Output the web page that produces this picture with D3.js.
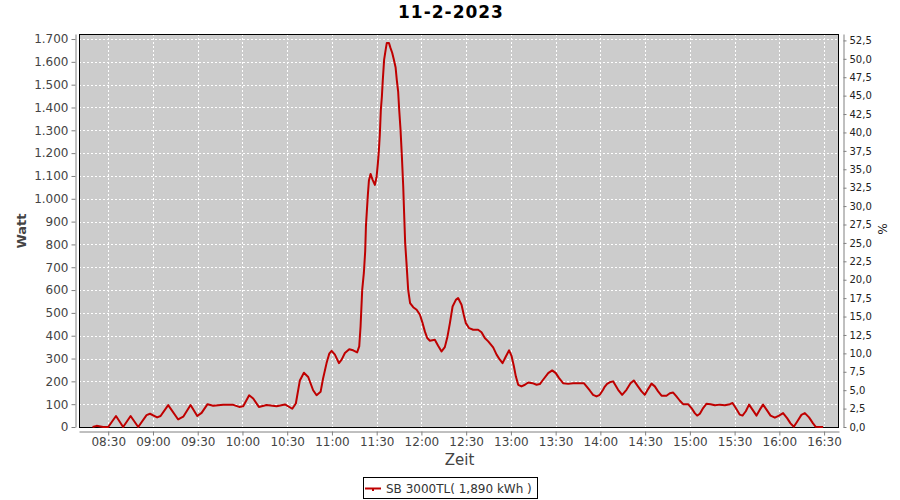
<!DOCTYPE html>
<html>
<head>
<meta charset="utf-8">
<script src="https://cdn.jsdelivr.net/npm/d3@7"></script>
<style>
  body { margin: 0; background: #fff; }
  svg { display: block; font-family: "DejaVu Sans", sans-serif; }
</style>
</head>
<body>
<svg id="chart" width="900" height="500"></svg>
<script>
// ---- data (minutes since midnight, watts) ----
const minutes = [
  499.5, 502.2, 506.6, 510, 515.2, 520, 525, 530.1, 535.7, 538, 542.8, 545.1, 550.2, 556.9, 560.3, 565.2,
  569.7, 572.6, 576.6, 580.4, 587.1, 593.8, 597.8, 600.5, 604.5, 607.2, 611, 616.2, 622.9, 628.5, 633.4,
  635.8, 638.5, 641.2, 644.1, 647.4, 649.7, 652.4, 654.1, 656.4, 658.2, 659.8, 662, 664.7, 666.5, 668.7,
  671.6, 674.2, 676.9, 678.3, 679.2, 679.6, 680.3, 681.4, 682.3, 682.8, 683.4, 684.1, 684.8, 685.9, 687.3,
  688.8, 689.9, 690.8, 691.5, 692.1, 692.8, 693.5, 694.1, 695, 696.2, 696.8, 698.2, 699.3, 700.4, 701.5,
  702.7, 703.5, 704.4, 705.1, 706, 706.9, 707.8, 708.4, 709.1, 710, 711.1, 712.4, 714.5, 716.8, 719,
  720.8, 722.3, 723.9, 725.7, 729, 731.2, 733.5, 735.7, 737.5, 739.1, 740.9, 743.1, 744.6, 746.9, 748.4,
  749.8, 752, 754.7, 758, 760.3, 762.5, 764.8, 768.1, 770.4, 772.6, 774.4, 776.6, 778.8, 780.4, 782,
  783.3, 784.9, 787.1, 789.4, 791.6, 794.5, 797.2, 799.4, 801.6, 805, 807.7, 810.1, 812.3, 815, 818.4,
  821.7, 826.2, 828.9, 830.7, 832.9, 835.1, 837.4, 839.6, 841.8, 843, 844.5, 846.3, 848.5, 851.9, 854.6,
  857.5, 860.2, 862.4, 865.3, 867.6, 869.8, 872, 874.3, 876.5, 878.7, 881, 884.3, 886.6, 888.8, 891,
  893.3, 895.5, 898.8, 901.1, 903.3, 904.9, 906.7, 908.9, 911.2, 913.9, 916.8, 920.1, 923.5, 926.8, 928.6,
  930.8, 933.5, 935.3, 937.5, 939.7, 942, 944.7, 946.9, 949.1, 951.4, 954.1, 957, 959.8, 962.5, 965.2,
  967.5, 969.7, 971.9, 974.8, 977.1, 979.9, 982.6, 984.4, 987.1, 989.3
];
const watts = [
  0, 5, 0, 0, 48, 0, 48, 0, 52, 58, 42, 48, 96, 33, 45, 96,
  48, 62, 100, 93, 97, 97, 88, 91, 139, 125, 88, 96, 91, 99, 80,
  103, 204, 238, 219, 161, 139, 154, 214, 280, 321, 334, 317, 280, 295, 324,
  341, 336, 327, 353, 441, 500, 601, 675, 770, 880, 945, 1018, 1080, 1109, 1083,
  1061, 1094, 1155, 1214, 1280, 1390, 1448, 1520, 1610, 1660, 1683, 1683, 1660, 1640, 1610,
  1575, 1520, 1470, 1390, 1302, 1186, 1055, 938, 807, 718, 602, 543, 525, 514, 492,
  455, 419, 390, 378, 382, 356, 331, 350, 397, 455, 528, 557, 565, 536, 492,
  455, 433, 426, 426, 415, 390, 375, 349, 317, 295, 280, 309, 336, 312, 266,
  222, 185, 178, 185, 195, 192, 185, 188, 207, 236, 248, 236, 214, 192, 189,
  192, 192, 192, 178, 160, 141, 134, 141, 163, 177, 189, 196, 200, 163, 141,
  163, 192, 204, 177, 156, 141, 166, 190, 178, 156, 137, 137, 148, 151, 134,
  115, 100, 100, 83, 61, 50, 58, 83, 102, 100, 95, 98, 95, 100, 105,
  83, 54, 50, 69, 98, 76, 50, 76, 98, 76, 50, 41, 50, 61, 39,
  16, 1, 23, 53, 61, 42, 16, 1, 0, 0
];
const timeTicks = [510, 540, 570, 600, 630, 660, 690, 720, 750, 780, 810, 840, 870, 900, 930, 960, 990];
const timeLabels = ["08:30", "09:00", "09:30", "10:00", "10:30", "11:00", "11:30", "12:00", "12:30",
                    "13:00", "13:30", "14:00", "14:30", "15:00", "15:30", "16:00", "16:30"];
const wattTicks = [0, 100, 200, 300, 400, 500, 600, 700, 800, 900, 1000, 1100, 1200, 1300, 1400, 1500, 1600, 1700];
const percentTicks = [0, 2.5, 5, 7.5, 10, 12.5, 15, 17.5, 20, 22.5, 25, 27.5, 30, 32.5, 35, 37.5, 40, 42.5, 45, 47.5, 50, 52.5];
const title = "11-2-2023";
const seriesName = "SB 3000TL( 1,890 kWh )";

// ---- layout ----
const L = 79, R = 839, T = 34, B = 427;
const svg = d3.select("#chart");

const x = d3.scaleLinear().domain([490.4, 1000]).range([L, R]);
const y = d3.scaleLinear().domain([0, 1722]).range([B, T]);
const yR = d3.scaleLinear().domain([0, 53.37]).range([B, T]);

const data = minutes.map((m, i) => ({ m, w: watts[i] }));

// title
svg.append("text").attr("x", 451).attr("y", 18).attr("text-anchor", "middle")
  .attr("font-size", 17).attr("font-weight", "bold").attr("letter-spacing", 1)
  .attr("fill", "#000").text(title);

// plot background
svg.append("rect").attr("x", L).attr("y", T).attr("width", R - L).attr("height", B - T)
  .attr("fill", "#cccccc");

// gridlines
const grid = svg.append("g").attr("stroke", "#fff").attr("stroke-width", 1).attr("stroke-dasharray", "2,2");
timeTicks.forEach(t => {
  const px = Math.round(x(t)) + 0.5;
  grid.append("line").attr("x1", px).attr("x2", px).attr("y1", T).attr("y2", B);
});
wattTicks.forEach(v => {
  if (v === 0) return;
  const py = Math.round(y(v)) + 0.5;
  grid.append("line").attr("x1", L).attr("x2", R).attr("y1", py).attr("y2", py);
});

// plot border
svg.append("rect").attr("x", L + 0.5).attr("y", T + 0.5).attr("width", R - L - 1).attr("height", B - T)
  .attr("fill", "none").attr("stroke", "#000").attr("stroke-width", 1);

// line
const line = d3.line().x(d => x(d.m)).y(d => y(d.w));
svg.append("path").datum(data).attr("d", line).attr("fill", "none")
  .attr("stroke", "#bf0000").attr("stroke-width", 2).attr("stroke-linejoin", "round");

// left axis
const leftAxis = d3.axisLeft(y).tickValues(wattTicks).tickSize(4).tickSizeOuter(0).tickPadding(3)
  .tickFormat(d => d3.format(",")(d).replace(/,/g, "."));
const gL = svg.append("g").attr("transform", "translate(75.5,0)").call(leftAxis);
gL.select(".domain").attr("stroke", "#808080");
gL.selectAll(".tick line").attr("stroke", "#808080");
gL.selectAll("text").attr("font-size", 12).attr("fill", "#444").attr("font-family", "DejaVu Sans");

// right axis
const rightAxis = d3.axisRight(yR).tickValues(percentTicks).tickSize(3).tickSizeOuter(0).tickPadding(3)
  .tickFormat(d => d3.format(".1f")(d).replace(".", ","));
const gR = svg.append("g").attr("transform", "translate(843.5,0)").call(rightAxis);
gR.select(".domain").attr("stroke", "#808080");
gR.selectAll(".tick line").attr("stroke", "#808080");
gR.selectAll("text").attr("font-size", 10).attr("fill", "#222").attr("font-family", "DejaVu Sans");

// bottom axis
const bottomAxis = d3.axisBottom(x).tickValues(timeTicks).tickSize(4).tickSizeOuter(0).tickPadding(2)
  .tickFormat((d, i) => timeLabels[i]);
const gB = svg.append("g").attr("transform", "translate(0,431.5)").call(bottomAxis);
gB.select(".domain").attr("stroke", "#808080");
gB.selectAll(".tick line").attr("stroke", "#808080");
gB.selectAll("text").attr("font-size", 12).attr("fill", "#444").attr("font-family", "DejaVu Sans");

// axis labels
svg.append("text").attr("transform", "translate(26,231) rotate(-90)").attr("text-anchor", "middle")
  .attr("font-size", 13).attr("font-weight", "bold").attr("fill", "#444").text("Watt");
svg.append("text").attr("x", 459.5).attr("y", 465).attr("text-anchor", "middle")
  .attr("font-size", 15).attr("fill", "#444").text("Zeit");
svg.append("text").attr("transform", "translate(878,229) rotate(90)").attr("text-anchor", "middle")
  .attr("font-size", 12).attr("fill", "#222").text("%");

// legend
const lg = svg.append("g");
lg.append("rect").attr("x", 363.5).attr("y", 477.5).attr("width", 174).attr("height", 21)
  .attr("fill", "#fff").attr("stroke", "#000").attr("stroke-width", 1);
lg.append("line").attr("x1", 365).attr("x2", 381).attr("y1", 488.5).attr("y2", 488.5)
  .attr("stroke", "#bf0000").attr("stroke-width", 2);
lg.append("rect").attr("x", 372).attr("y", 488).attr("width", 2).attr("height", 3).attr("fill", "#bf0000");
lg.append("text").attr("x", 386).attr("y", 493).attr("font-size", 12).attr("fill", "#333").text(seriesName);
</script>
</body>
</html>
